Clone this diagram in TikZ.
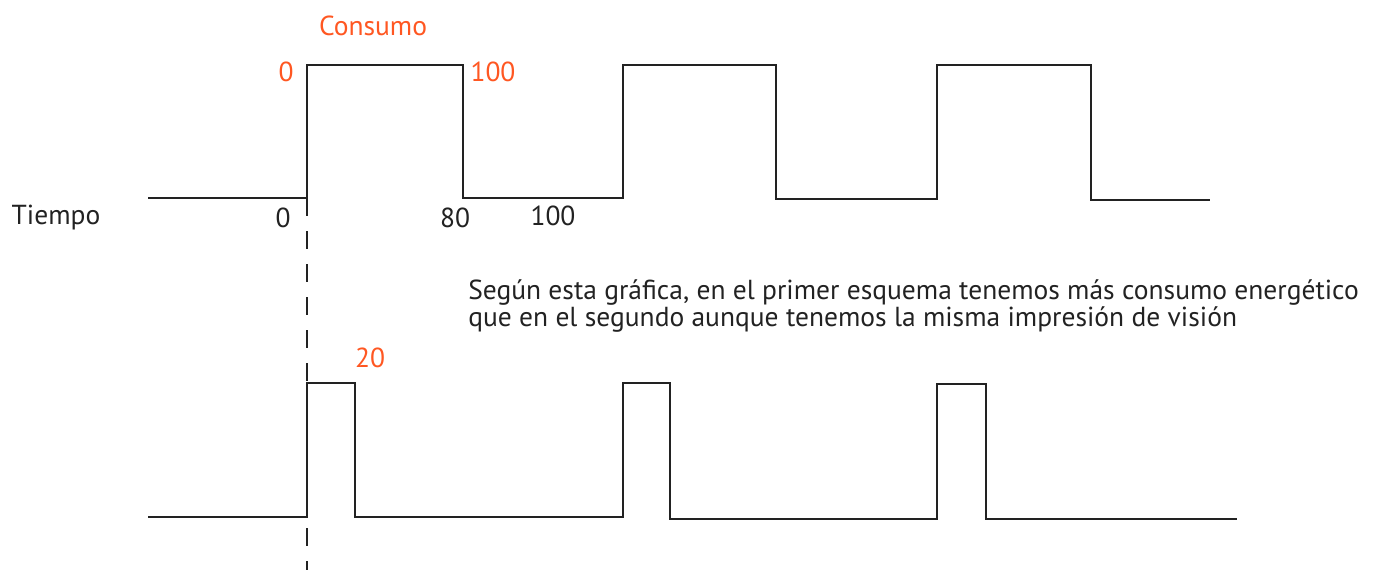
\documentclass[tikz,border=0pt]{standalone}
\usepackage{fontspec}
\setmainfont{PT Sans}
\usetikzlibrary{arrows, arrows.meta, calc}
\definecolor{naranjo}{RGB}{255,87,34}
\definecolor{trazo}{RGB}{34,34,34}

\begin{document}
\begin{tikzpicture}[x=1pt, y=-1pt, line width=2.5pt,
	cifra/.style={font=\fontsize{27.5}{24}\selectfont, inner sep=0pt, text=trazo},
	rotulo/.style={cifra, text=naranjo}]
	\useasboundingbox (0,0) rectangle (1377,570);
%	\draw[gray!50, dashed, step=50] (0,0) grid (1377,570);
	% primer esquema
	\draw[trazo] (148,198) -- (307,198) -- (307,65) -- (463,65) -- (463,198) 
	-- (623,198) -- (623,65) -- (776,65) -- (776,199) -- (937,199) 
	-- (937,65) -- (1091,65) -- (1091,200) -- (1210,200);
	% segundo esquema
	\draw[trazo] (148,517) -- (307,517) -- (307,383) -- (355,383) -- (355,517) 
	-- (623,517) -- (623,383) -- (670,383) -- (670,519) -- (937,519) 
	-- (937,384) -- (986,384) -- (986,519) -- (1237,519);
	
	\coordinate (inicio) at (307,198);
	\coordinate (fin) at (307,570);
	\draw[trazo, dash pattern=on 18pt off 15pt] (inicio) -- (fin);
	
	\node[rotulo] (consumo) at (373,26) {Consumo};
	\node[rotulo] (ceroarriba) at (286,72) {0};
	\node[rotulo] (cienarriba) at (493,72) {100};
	\node[rotulo] (veinte) at (370,358) {20};
	
	\node[cifra] (tiempo) at (56,218) {Tiempo};
	\node[cifra] (cero) at (283,218) {0};
	\node[cifra] (ochenta) at (455,218) {80};
	\node[cifra] (cien) at (553,216) {100};
	
	\node[cifra, anchor=west, align=left] (texto) at (467,306) 
	{Según esta gráfica, en el primer esquema tenemos más consumo energético \\ 
	que en el segundo aunque tenemos la misma impresión de visión};
\end{tikzpicture}
\end{document}
